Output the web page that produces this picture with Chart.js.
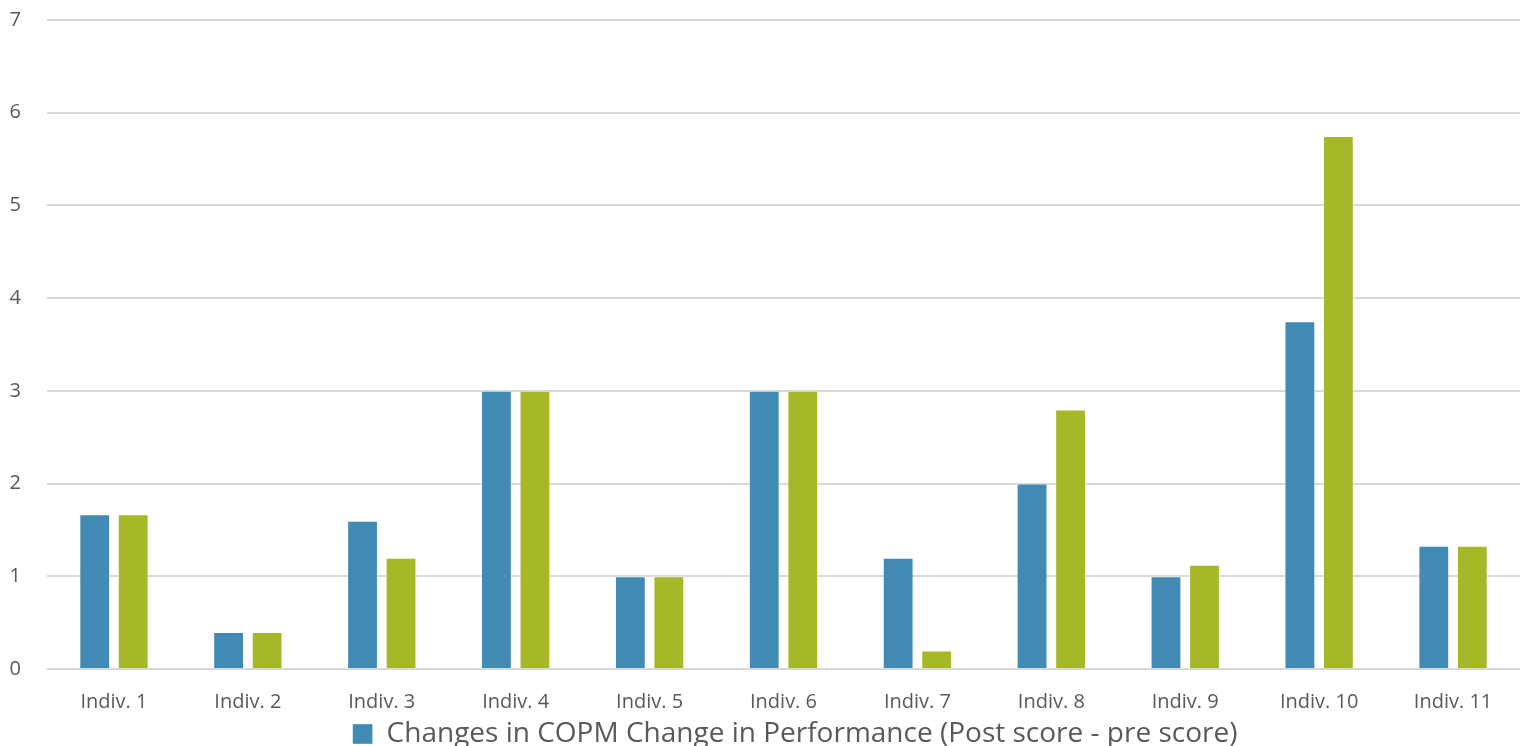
<!DOCTYPE html>
<html>
<head>
    <title>COPM Changes</title>
    <meta charset="utf-8">
    <script src="https://cdn.jsdelivr.net/npm/chart.js@4.4.0/dist/chart.umd.min.js"></script>
    <style>
        body {
            margin: 0;
            background: #fff;
            overflow: hidden;
        }
        .chart-container {
            position: relative;
            width: 1522px;
            height: 764px;
            margin-top: -18px;
        }
    </style>
</head>
<body>
    <div class="chart-container">
        <canvas id="copm-chart"></canvas>
    </div>

    <script>
        // Datos
        const individuos = ['Indiv. 1', 'Indiv. 2', 'Indiv. 3', 'Indiv. 4', 'Indiv. 5', 'Indiv. 6',
                            'Indiv. 7', 'Indiv. 8', 'Indiv. 9', 'Indiv. 10', 'Indiv. 11'];
        const desempeno = [1.67, 0.4, 1.6, 3, 1, 3, 1.2, 2, 1, 3.75, 1.33];
        const satisfaccion = [1.67, 0.4, 1.2, 3, 1, 3, 0.2, 2.8, 1.125, 5.75, 1.33];
        const ticksY = [0, 1, 2, 3, 4, 5, 6, 7];

        const azul = '#418ab3';
        const verde = '#a6b727';
        const gris = '#595959';

        // Desplaza la leyenda un poco a la derecha
        const moverLeyenda = {
            id: 'moverLeyenda',
            afterLayout(chart) {
                chart.legend.left += 35;
                chart.legend.right += 35;
            }
        };

        const ctx = document.getElementById('copm-chart').getContext('2d');
        const chart = new Chart(ctx, {
            type: 'bar',
            data: {
                labels: individuos,
                datasets: [{
                    label: 'Changes in COPM Change in Performance (Post score - pre score)',
                    data: desempeno,
                    backgroundColor: azul,
                    borderColor: 'rgba(255,255,255,0.4)',
                    borderWidth: 1
                }, {
                    label: 'Changes in COPM Change in Satisfaction (Post score - pre score)',
                    data: satisfaccion,
                    backgroundColor: verde,
                    borderColor: 'rgba(255,255,255,0.4)',
                    borderWidth: 1
                }]
            },
            options: {
                responsive: true,
                maintainAspectRatio: false,
                animation: false,
                categoryPercentage: 0.575,
                barPercentage: 0.8,
                layout: {
                    padding: { top: 0, left: 0, right: 2, bottom: -12 }
                },
                scales: {
                    x: {
                        grid: { display: false },
                        border: { display: false },
                        afterFit: axis => {
                            axis.height = 51;
                        },
                        ticks: {
                            color: gris,
                            font: { family: 'Open Sans', size: 20 },
                            padding: 13
                        }
                    },
                    y: {
                        min: 0,
                        max: 7,
                        afterBuildTicks: axis => {
                            axis.ticks = ticksY.map(v => ({ value: v }));
                        },
                        afterFit: axis => {
                            axis.width = 47;
                        },
                        grid: {
                            color: '#d9d9d9',
                            lineWidth: 2,
                            drawTicks: false
                        },
                        border: { display: false },
                        ticks: {
                            color: gris,
                            font: { family: 'Open Sans', size: 20 },
                            padding: 26
                        }
                    }
                },
                plugins: {
                    legend: {
                        position: 'bottom',
                        labels: {
                            filter: item => item.datasetIndex === 0,
                            color: gris,
                            font: { family: 'Open Sans', size: 28 },
                            boxWidth: 20,
                            boxHeight: 20,
                            padding: 0
                        }
                    },
                    tooltip: { enabled: true }
                }
            },
            plugins: [moverLeyenda]
        });
    </script>
</body>
</html>
